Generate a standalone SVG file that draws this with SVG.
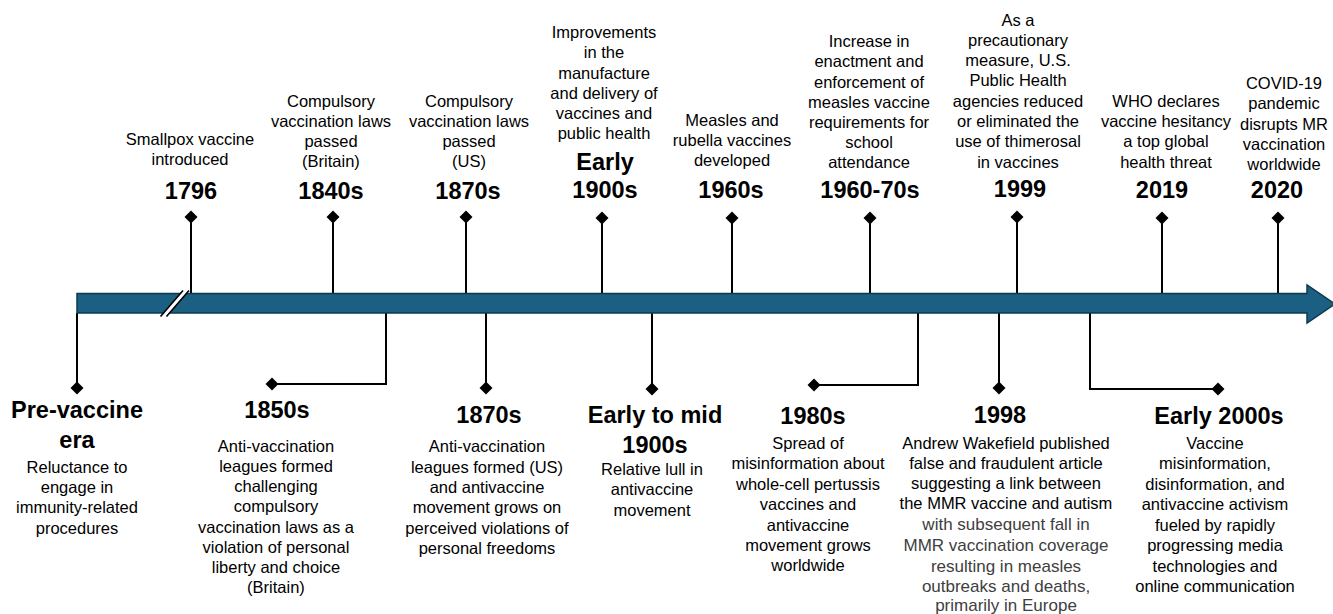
<svg xmlns="http://www.w3.org/2000/svg" width="1333" height="614" viewBox="0 0 1333 614">
  <style>
    text { font-family: "Liberation Sans", Arial, sans-serif; text-anchor: middle; fill: #000; }
    .yr { font-size: 23.5px; font-weight: bold; }
    .ds { font-size: 16.5px; }
    .gr { font-size: 17px; fill: #404040; }
    .stem { fill: none; stroke: #000; stroke-width: 2; marker-end: url(#dia); }
  </style>
  <defs>
    <marker id="dia" markerUnits="userSpaceOnUse" viewBox="-7 -7 14 14" markerWidth="14" markerHeight="14" refX="0" refY="0" orient="0">
      <path d="M0,-6.5 L6.5,0 L0,6.5 L-6.5,0 Z" fill="#000"/>
    </marker>
  </defs>
  <rect width="1333" height="614" fill="#fff"/>

  <!-- stems linking each event to the time axis -->
  <g id="connectors">
    <path class="stem" d="M77,313 V388"/>
    <path class="stem" d="M191,294 V217"/>
    <path class="stem" d="M333,294 V217"/>
    <path class="stem" d="M466,294 V217"/>
    <path class="stem" d="M386,313 V384 H272"/>
    <path class="stem" d="M486,313 V388"/>
    <path class="stem" d="M602,294 V218"/>
    <path class="stem" d="M652,313 V389"/>
    <path class="stem" d="M732,294 V218"/>
    <path class="stem" d="M870,294 V218"/>
    <path class="stem" d="M918,313 V385 H814"/>
    <path class="stem" d="M999,313 V388"/>
    <path class="stem" d="M1017,294 V217"/>
    <path class="stem" d="M1090,313 V389 H1218"/>
    <path class="stem" d="M1162,294 V218"/>
    <path class="stem" d="M1278,294 V218"/>
  </g>

  <!-- time axis arrow with a scale break -->
  <g id="axis">
    <path d="M77,293.5 H1307 V285 L1335,304 L1307,323 V313 H77 Z" fill="#1b5f82" stroke="#0e3a50" stroke-width="1.5" stroke-linejoin="miter"/>
    <path d="M163.5,316.5 L186,290.5" stroke="#fff" stroke-width="5"/>
    <path d="M160.5,316.5 L183,290.5 M166.5,316.5 L189,290.5" stroke="#000" stroke-width="1.6"/>
  </g>

  <g id="pre-vaccine">
    <text class="yr" x="77" y="418">Pre-vaccine</text>
    <text class="yr" x="77" y="448">era</text>
    <text class="ds" x="77" y="473">Reluctance to</text>
    <text class="ds" x="77" y="493">engage in</text>
    <text class="ds" x="77" y="513">immunity-related</text>
    <text class="ds" x="77" y="534">procedures</text>
  </g>

  <g id="y1796">
    <text class="ds" x="190" y="145">Smallpox vaccine</text>
    <text class="ds" x="190" y="165">introduced</text>
    <text class="yr" x="191" y="199">1796</text>
  </g>

  <g id="y1840s">
    <text class="ds" x="331" y="107">Compulsory</text>
    <text class="ds" x="331" y="127">vaccination laws</text>
    <text class="ds" x="331" y="147">passed</text>
    <text class="ds" x="331" y="167">(Britain)</text>
    <text class="yr" x="331" y="199">1840s</text>
  </g>

  <g id="y1850s">
    <text class="yr" x="277" y="418">1850s</text>
    <text class="ds" x="276" y="452">Anti-vaccination</text>
    <text class="ds" x="276" y="472">leagues formed</text>
    <text class="ds" x="276" y="492">challenging</text>
    <text class="ds" x="276" y="512">compulsory</text>
    <text class="ds" x="276" y="533">vaccination laws as a</text>
    <text class="ds" x="276" y="553">violation of personal</text>
    <text class="ds" x="276" y="573">liberty and choice</text>
    <text class="ds" x="276" y="593">(Britain)</text>
  </g>

  <g id="y1870s-laws">
    <text class="ds" x="469" y="107">Compulsory</text>
    <text class="ds" x="469" y="127">vaccination laws</text>
    <text class="ds" x="469" y="147">passed</text>
    <text class="ds" x="469" y="167">(US)</text>
    <text class="yr" x="468" y="199">1870s</text>
  </g>

  <g id="y1870s-leagues">
    <text class="yr" x="489" y="423">1870s</text>
    <text class="ds" x="487" y="452">Anti-vaccination</text>
    <text class="ds" x="487" y="472.5">leagues formed (US)</text>
    <text class="ds" x="487" y="493">and antivaccine</text>
    <text class="ds" x="487" y="513">movement grows on</text>
    <text class="ds" x="487" y="534">perceived violations of</text>
    <text class="ds" x="487" y="554">personal freedoms</text>
  </g>

  <g id="early-1900s">
    <text class="ds" x="604" y="38">Improvements</text>
    <text class="ds" x="604" y="58">in the</text>
    <text class="ds" x="604" y="79">manufacture</text>
    <text class="ds" x="604" y="99">and delivery of</text>
    <text class="ds" x="604" y="119">vaccines and</text>
    <text class="ds" x="604" y="139">public health</text>
    <text class="yr" x="605" y="170">Early</text>
    <text class="yr" x="605" y="198">1900s</text>
  </g>

  <g id="early-mid-1900s">
    <text class="yr" x="655" y="423">Early to mid</text>
    <text class="yr" x="655" y="453">1900s</text>
    <text class="ds" x="652" y="475">Relative lull in</text>
    <text class="ds" x="652" y="495">antivaccine</text>
    <text class="ds" x="652" y="516">movement</text>
  </g>

  <g id="y1960s">
    <text class="ds" x="732" y="126">Measles and</text>
    <text class="ds" x="732" y="146">rubella vaccines</text>
    <text class="ds" x="732" y="166">developed</text>
    <text class="yr" x="731" y="198">1960s</text>
  </g>

  <g id="y1960-70s">
    <text class="ds" x="869" y="47">Increase in</text>
    <text class="ds" x="869" y="67">enactment and</text>
    <text class="ds" x="869" y="88">enforcement of</text>
    <text class="ds" x="869" y="108">measles vaccine</text>
    <text class="ds" x="869" y="128">requirements for</text>
    <text class="ds" x="869" y="148">school</text>
    <text class="ds" x="869" y="168">attendance</text>
    <text class="yr" x="870" y="198">1960-70s</text>
  </g>

  <g id="y1980s">
    <text class="yr" x="813" y="424">1980s</text>
    <text class="ds" x="808" y="449">Spread of</text>
    <text class="ds" x="808" y="469">misinformation about</text>
    <text class="ds" x="808" y="490">whole-cell pertussis</text>
    <text class="ds" x="808" y="510">vaccines and</text>
    <text class="ds" x="808" y="531">antivaccine</text>
    <text class="ds" x="808" y="551">movement grows</text>
    <text class="ds" x="808" y="571">worldwide</text>
  </g>

  <g id="y1998">
    <text class="yr" x="1000" y="423">1998</text>
    <text class="ds" x="1006" y="449">Andrew Wakefield published</text>
    <text class="ds" x="1006" y="469">false and fraudulent article</text>
    <text class="ds" x="1006" y="489">suggesting a link between</text>
    <text class="ds" x="1006" y="509">the MMR vaccine and autism</text>
    <text class="gr" x="1006" y="530">with subsequent fall in</text>
    <text class="gr" x="1006" y="551">MMR vaccination coverage</text>
    <text class="gr" x="1006" y="572">resulting in measles</text>
    <text class="gr" x="1006" y="592">outbreaks and deaths,</text>
    <text class="gr" x="1006" y="611">primarily in Europe</text>
  </g>

  <g id="y1999">
    <text class="ds" x="1018" y="26">As a</text>
    <text class="ds" x="1018" y="46">precautionary</text>
    <text class="ds" x="1018" y="66">measure, U.S.</text>
    <text class="ds" x="1018" y="86">Public Health</text>
    <text class="ds" x="1018" y="107">agencies reduced</text>
    <text class="ds" x="1018" y="127">or eliminated the</text>
    <text class="ds" x="1018" y="147">use of thimerosal</text>
    <text class="ds" x="1018" y="168">in vaccines</text>
    <text class="yr" x="1020" y="197">1999</text>
  </g>

  <g id="early-2000s">
    <text class="yr" x="1219" y="424">Early 2000s</text>
    <text class="ds" x="1215" y="449">Vaccine</text>
    <text class="ds" x="1215" y="469">misinformation,</text>
    <text class="ds" x="1215" y="490">disinformation, and</text>
    <text class="ds" x="1215" y="510">antivaccine activism</text>
    <text class="ds" x="1215" y="531">fueled by rapidly</text>
    <text class="ds" x="1215" y="551">progressing media</text>
    <text class="ds" x="1215" y="572">technologies and</text>
    <text class="ds" x="1215" y="592">online communication</text>
  </g>

  <g id="y2019">
    <text class="ds" x="1166" y="107">WHO declares</text>
    <text class="ds" x="1166" y="127">vaccine hesitancy</text>
    <text class="ds" x="1166" y="147">a top global</text>
    <text class="ds" x="1166" y="168">health threat</text>
    <text class="yr" x="1162" y="198">2019</text>
  </g>

  <g id="y2020">
    <text class="ds" x="1284" y="89">COVID-19</text>
    <text class="ds" x="1284" y="109">pandemic</text>
    <text class="ds" x="1284" y="130">disrupts MR</text>
    <text class="ds" x="1284" y="150">vaccination</text>
    <text class="ds" x="1284" y="170">worldwide</text>
    <text class="yr" x="1277" y="198">2020</text>
  </g>
</svg>
